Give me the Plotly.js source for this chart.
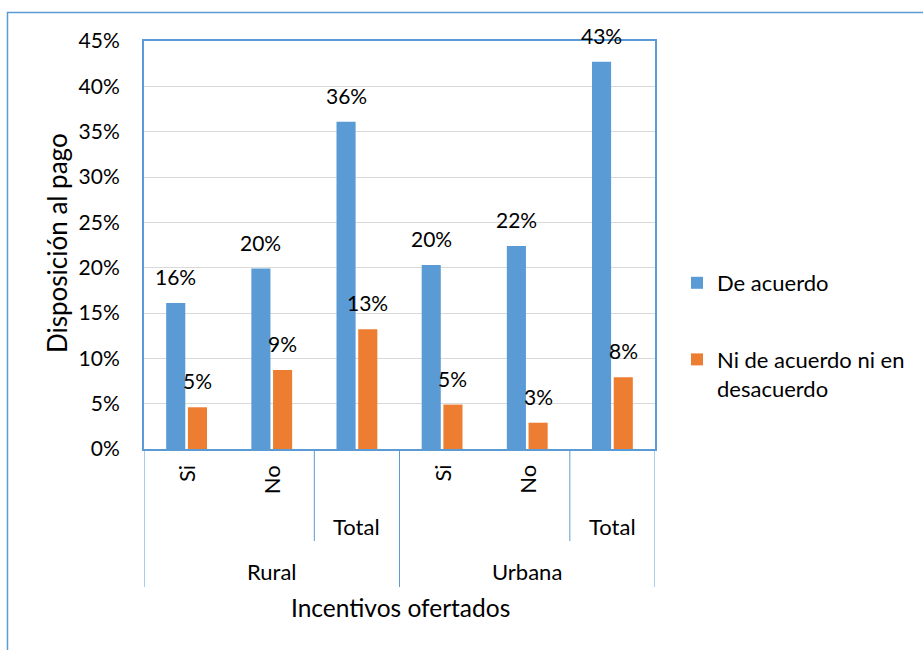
<!DOCTYPE html>
<html>
<head>
<meta charset="utf-8">
<script src="https://cdn.plot.ly/plotly-3.0.1.min.js"></script>
<style>html,body{margin:0;padding:0;background:#fff;}#chart{width:923px;height:650px;}</style>
</head>
<body>
<div id="chart"></div>
<script>
// ---- data ----
const subcats = ['Si', 'No', 'Total', 'Si', 'No', 'Total'];
const groupOf = ['Rural', 'Rural', 'Rural', 'Urbana', 'Urbana', 'Urbana'];
const seriesNames = ['De acuerdo', 'Ni de acuerdo ni en<br>desacuerdo'];
const deAcuerdo = [0.161, 0.199, 0.361, 0.203, 0.224, 0.427];
const niNi = [0.046, 0.087, 0.132, 0.049, 0.029, 0.079];
const yTicks = [0, 0.05, 0.10, 0.15, 0.20, 0.25, 0.30, 0.35, 0.40, 0.45];
const yTitle = 'Disposición al pago';
const xTitle = 'Incentivos ofertados';

// ---- style ----
const W = 923, H = 650;
const M = {l: 144, r: 268, t: 41, b: 201};
const PW = W - M.l - M.r, PH = H - M.t - M.b;
const FONT = 'Lato, "Open Sans", sans-serif';
const FS_TICK = 21, FS_LBL = 21, FS_CAT = 22, FS_LEG = 22, FS_XT = 24.5, FS_YT = 26;
const BLUE = '#5B9BD5', ORANGE = '#ED7D31', BORDER = '#5B9BD5';
const BARGAP = 0.49, BARGROUPGAP = 0.12;

const px2x = p => (p - M.l) / PW;          // page px -> paper x
const px2y = p => (M.t + PH - p) / PH;     // page px -> paper y

const idx = subcats.map((_, i) => i);
const series = [deAcuerdo, niNi];
const colors = [BLUE, ORANGE];

const traces = series.map((vals, s) => ({
  type: 'bar',
  x: idx,
  y: vals,
  name: seriesNames[s],
  legendgroup: 'g' + s,
  marker: {color: colors[s], line: {width: 0}},
  hoverinfo: 'skip'
}));

const annotations = [];
// data labels
const slot = (1 - BARGAP) / series.length;
series.forEach((vals, s) => {
  const off = -((1 - BARGAP) / 2) + slot * (s + 0.5);
  vals.forEach((v, i) => {
    annotations.push({
      x: i + off, y: v, xref: 'x', yref: 'y',
      text: Math.round(v * 100) + '%',
      showarrow: false, xanchor: 'center', yanchor: 'bottom', yshift: 12,
      font: {family: FONT, size: FS_LBL, color: '#000'}
    });
  });
});
// category labels
subcats.forEach((c, i) => {
  if (c === 'Total') {
    annotations.push({x: i, y: 0, xref: 'x', yref: 'paper', text: c, showarrow: false,
      xanchor: 'center', yanchor: 'middle', yshift: -77,
      font: {family: FONT, size: FS_CAT, color: '#000'}});
  } else {
    annotations.push({x: i, y: 0, xref: 'x', yref: 'paper', text: c, showarrow: false,
      textangle: -90, xanchor: 'center', yanchor: 'top', yshift: -14,
      font: {family: FONT, size: FS_CAT, color: '#000'}});
  }
});
// group labels
const groups = [...new Set(groupOf)];
groups.forEach(g => {
  const ii = idx.filter(i => groupOf[i] === g);
  const cx = (ii[0] + ii[ii.length - 1]) / 2;
  annotations.push({x: cx, y: 0, xref: 'x', yref: 'paper', text: g, showarrow: false,
    xanchor: 'center', yanchor: 'middle', yshift: -122,
    font: {family: FONT, size: FS_CAT, color: '#000'}});
});
// axis titles
annotations.push({x: px2x(400), y: px2y(607), xref: 'paper', yref: 'paper', text: xTitle,
  showarrow: false, xanchor: 'center', yanchor: 'middle',
  font: {family: FONT, size: FS_XT, color: '#000'}});
annotations.push({x: px2x(57), y: px2y(243), xref: 'paper', yref: 'paper', text: yTitle,
  showarrow: false, textangle: -90, xanchor: 'center', yanchor: 'middle',
  font: {family: FONT, size: FS_YT, color: '#000'}});

// category dividers
const shapes = [];
for (let i = 0; i <= subcats.length; i++) {
  let y1 = null;
  if (i === 0 || i === subcats.length || groupOf[i] !== groupOf[i - 1]) y1 = px2y(587);
  else if (subcats[i] === 'Total') y1 = px2y(541);
  if (y1 !== null) {
    shapes.push({type: 'line', xref: 'x', yref: 'paper', x0: i - 0.5, x1: i - 0.5, y0: 0, y1: y1,
      line: {color: BORDER, width: 1}});
  }
}
// chart outer border (left + top, cropped on other sides)
shapes.push({type: 'path', xref: 'paper', yref: 'paper',
  path: `M ${px2x(7.5)} ${px2y(660)} L ${px2x(7.5)} ${px2y(12.5)} L ${px2x(930)} ${px2y(12.5)}`,
  line: {color: BORDER, width: 1.5}});

const layout = {
  width: W, height: H,
  margin: M,
  paper_bgcolor: '#fff', plot_bgcolor: '#fff',
  font: {family: FONT, size: FS_TICK, color: '#000'},
  barmode: 'group', bargap: BARGAP, bargroupgap: BARGROUPGAP,
  showlegend: true,
  legend: {x: px2x(677), y: px2y(262), xanchor: 'left', yanchor: 'top',
    font: {family: FONT, size: FS_LEG, color: '#000'}, valign: 'top',
    traceorder: 'grouped', tracegroupgap: 45, bgcolor: 'rgba(0,0,0,0)'},
  xaxis: {range: [-0.5, subcats.length - 0.5], showticklabels: false, showgrid: false,
    zeroline: false, showline: true, mirror: true, linecolor: BORDER, linewidth: 2,
    ticks: '', fixedrange: true},
  yaxis: {range: [0, 0.45], tickvals: yTicks, tickformat: '.0%', showgrid: true,
    gridcolor: '#D9D9D9', gridwidth: 1, zeroline: false, showline: true, mirror: true,
    linecolor: BORDER, linewidth: 2, ticks: 'outside', ticklen: 18,
    tickcolor: 'rgba(0,0,0,0)', tickfont: {family: FONT, size: FS_TICK, color: '#000'},
    fixedrange: true},
  annotations: annotations,
  shapes: shapes
};

Plotly.newPlot('chart', traces, layout, {displayModeBar: false, staticPlot: true});
</script>
</body>
</html>
